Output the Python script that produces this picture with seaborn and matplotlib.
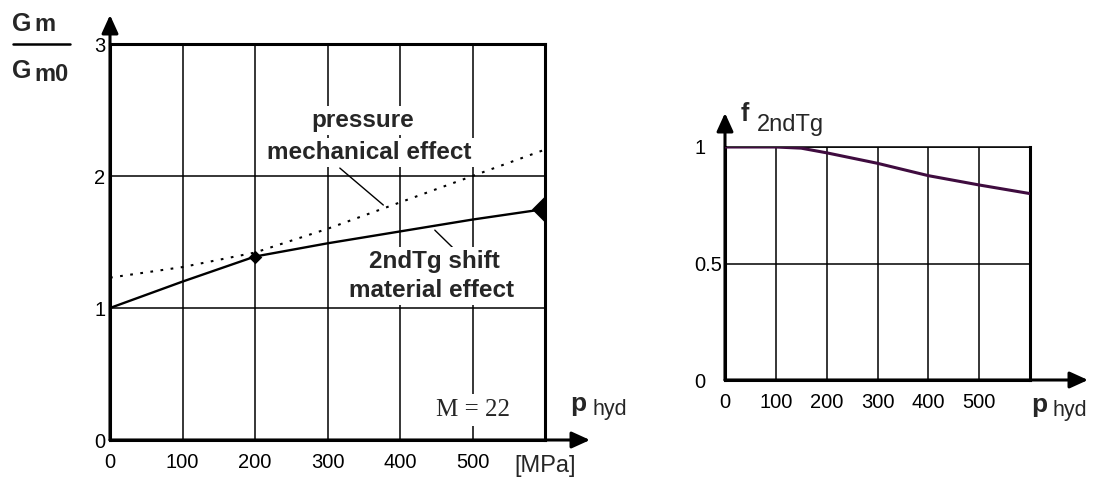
import matplotlib
matplotlib.use("Agg")
import matplotlib.pyplot as plt
import seaborn as sns
from matplotlib import font_manager as fm
from matplotlib.lines import Line2D

# ---------------- data ----------------
p_left = [0, 100, 200, 300, 400, 500, 600]
material_effect = [1.0, 1.2, 1.39, 1.49, 1.58, 1.67, 1.75]      # 2ndTg shift (solid)
mechanical_effect = [1.23, 1.31, 1.42, 1.6, 1.8, 2.0, 2.2]       # pressure effect (dotted)
marker_p = [200, 600]
marker_g = [1.39, 1.75]

p_right = [0, 100, 150, 200, 300, 400, 500, 600]
f_2ndtg = [1.0, 1.0, 0.995, 0.975, 0.93, 0.877, 0.837, 0.80]

left_xticks = [0, 100, 200, 300, 400, 500]
left_yticks = [0, 1, 2, 3]
right_xticks = [0, 100, 200, 300, 400, 500]
right_yticks = [0, 0.5, 1]
right_ylabels = ["0", "0.5", "1"]

# ---------------- style ----------------
sns.set_theme(style="white")
names = {f.name for f in fm.fontManager.ttflist}
SANS = "Liberation Sans" if "Liberation Sans" in names else "DejaVu Sans"
if "Liberation Sans Narrow" in names:
    TICKFONT, TICKSIZE = "Liberation Sans Narrow", 17
else:
    TICKFONT, TICKSIZE = SANS, 14.5
SERIF = "Liberation Serif" if "Liberation Serif" in names else "DejaVu Serif"
plt.rcParams["font.family"] = [SANS, "DejaVu Sans"]

W, H = 1097, 488
fig = plt.figure(figsize=(W / 100, H / 100), dpi=100)
fig.patch.set_facecolor("white")


def fx(px):
    return px / W


def fy(py):
    return 1 - py / H


ax1 = fig.add_axes([fx(110), fy(440), 435 / W, 396 / H])
ax2 = fig.add_axes([fx(725), fy(380), 305 / W, 233 / H])

for ax in (ax1, ax2):
    ax.set_facecolor("white")
    ax.set_axisbelow(True)
    ax.grid(True, color="black", lw=1.1)
    for s in ax.spines.values():
        s.set_color("black")
        s.set_linewidth(2.2)
    ax.tick_params(length=0, colors="black")

ax2.spines["top"].set_linewidth(1.1)

# ---------------- left chart ----------------
sns.lineplot(x=p_left, y=mechanical_effect, ax=ax1, color="black", lw=1.5,
             linestyle=(0, (1.3, 3.6)))
sns.lineplot(x=p_left, y=material_effect, ax=ax1, color="black", lw=1.7)
sns.scatterplot(x=marker_p[:1], y=marker_g[:1], ax=ax1, marker="D", s=48,
                color="black", linewidth=0, zorder=4)
sns.scatterplot(x=marker_p[1:], y=marker_g[1:], ax=ax1, marker="D", s=190,
                color="black", linewidth=0, zorder=4)

ax1.set_xlim(0, 600)
ax1.set_ylim(0, 3)
ax1.set_xticks(left_xticks)
ax1.set_xticklabels([str(v) for v in left_xticks], family=TICKFONT, fontsize=TICKSIZE)
ax1.set_yticks(left_yticks)
ax1.set_yticklabels([str(v) for v in left_yticks], family=TICKFONT, fontsize=TICKSIZE)
ax1.tick_params(axis="x", pad=9)
ax1.tick_params(axis="y", pad=3.5)
ax1.set_xlabel("")
ax1.set_ylabel("")

box = dict(boxstyle="square,pad=0.12", fc="white", ec="none")
tkw = dict(fontsize=17.5, fontweight="bold", ha="center", va="center", bbox=box, zorder=5)
ax1.text(348, 2.42, "pressure", **tkw)
ax1.text(358, 2.18, "mechanical effect", **tkw)
ax1.text(447, 1.35, "2ndTg shift", **tkw)
ax1.text(443, 1.13, "material effect", **tkw)
ax1.annotate("", xy=(377, 1.78), xytext=(317, 2.06),
             arrowprops=dict(arrowstyle="-", lw=1.0, color="black", shrinkA=0, shrinkB=0))
ax1.annotate("", xy=(476, 1.44), xytext=(448, 1.59),
             arrowprops=dict(arrowstyle="-", lw=1.0, color="black", shrinkA=0, shrinkB=0))
ax1.text(500, 0.23, "M = 22", family=SERIF, fontsize=18, ha="center", va="center",
         bbox=dict(boxstyle="square,pad=0.2", fc="white", ec="none"), zorder=5)

arrow = dict(arrowstyle="-|>,head_length=0.55,head_width=0.25", lw=2.2, color="black",
             shrinkA=0, shrinkB=0, mutation_scale=20)
ax1.annotate("", xy=(0, (440 - 15) / 396), xytext=(0, 0), xycoords="axes fraction",
             textcoords="axes fraction", arrowprops=arrow, annotation_clip=False)
ax1.annotate("", xy=((590 - 110) / 435, 0), xytext=(0, 0), xycoords="axes fraction",
             textcoords="axes fraction", arrowprops=arrow, annotation_clip=False)

# axis titles of left chart
fig.text(fx(545), fy(466), "[MPa]", fontsize=17, ha="center", va="center")
fig.text(fx(570), fy(411), "p", fontsize=19, fontweight="bold", ha="left", va="baseline")
fig.text(fx(592), fy(415), "hyd", fontsize=15.5, ha="left", va="baseline")

fig.text(fx(12), fy(31), "G", fontsize=18, fontweight="bold", ha="left", va="baseline")
fig.text(fx(34), fy(31), "m", fontsize=17, fontweight="bold", ha="left", va="baseline")
fig.add_artist(Line2D([fx(13), fx(70)], [fy(44), fy(44)], color="black", lw=1.8,
                      transform=fig.transFigure))
fig.text(fx(12), fy(78), "G", fontsize=18, fontweight="bold", ha="left", va="baseline")
fig.text(fx(34), fy(81), "m0", fontsize=17, fontweight="bold", ha="left", va="baseline")

# ---------------- right chart ----------------
sns.lineplot(x=p_right, y=f_2ndtg, ax=ax2, color="#3f0c3f", lw=2.2, zorder=4)
ax2.set_xlim(0, 600)
ax2.set_ylim(0, 1)
ax2.set_xticks(right_xticks)
ax2.set_xticklabels([str(v) for v in right_xticks], family=TICKFONT, fontsize=TICKSIZE)
ax2.set_yticks(right_yticks)
ax2.set_yticklabels(right_ylabels, family=TICKFONT, fontsize=TICKSIZE)
ax2.tick_params(axis="x", pad=9)
ax2.tick_params(axis="y", pad=22)
for t in ax2.get_yticklabels():
    t.set_horizontalalignment("left")
ax2.set_xlabel("")
ax2.set_ylabel("")

ax2.annotate("", xy=(0, (380 - 113) / 233), xytext=(0, 0), xycoords="axes fraction",
             textcoords="axes fraction", arrowprops=arrow, annotation_clip=False)
ax2.annotate("", xy=((1088 - 725) / 305, 0), xytext=(0, 0), xycoords="axes fraction",
             textcoords="axes fraction", arrowprops=arrow, annotation_clip=False)

fig.text(fx(741), fy(121), "f", fontsize=18, fontweight="bold", ha="left", va="baseline")
fig.text(fx(757), fy(131), "2ndTg", fontsize=17, ha="left", va="baseline")
fig.text(fx(1031), fy(412), "p", fontsize=19, fontweight="bold", ha="left", va="baseline")
fig.text(fx(1053), fy(416), "hyd", fontsize=15.5, ha="left", va="baseline")

fig.savefig("out.png", dpi=100, facecolor="white")
